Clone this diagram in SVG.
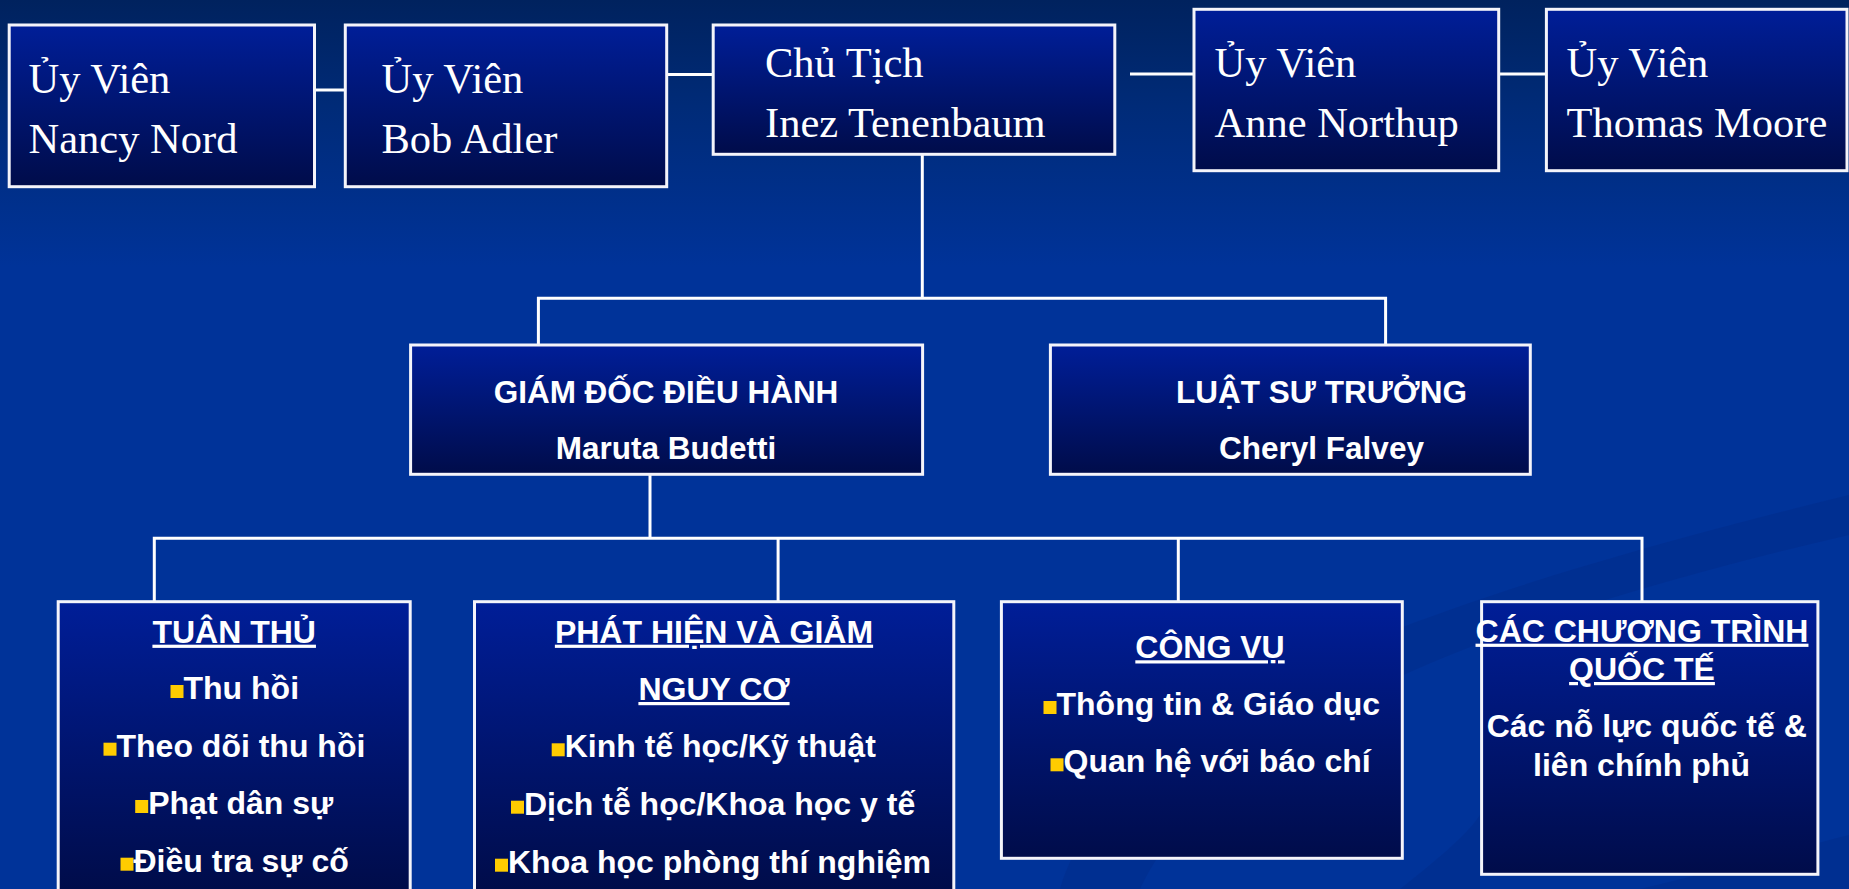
<svg xmlns="http://www.w3.org/2000/svg" width="1849" height="889" viewBox="0 0 1849 889">
  <defs>
    <linearGradient id="bg" x1="0" y1="0" x2="0" y2="1">
      <stop offset="0" stop-color="#00225E"/>
      <stop offset="0.12" stop-color="#002B78"/>
      <stop offset="0.3" stop-color="#003399"/>
      <stop offset="1" stop-color="#003399"/>
    </linearGradient>
    <linearGradient id="box" x1="0" y1="0" x2="0" y2="1">
      <stop offset="0" stop-color="#001E98"/>
      <stop offset="1" stop-color="#000C4A"/>
    </linearGradient>
    <linearGradient id="boxTall" gradientUnits="userSpaceOnUse" x1="0" y1="601" x2="0" y2="889">
      <stop offset="0" stop-color="#001E98"/>
      <stop offset="1" stop-color="#000C4A"/>
    </linearGradient>
    <style>
      .node { stroke: #F4F4FA; stroke-width: 3; }
      .conn { stroke: #FFFFFF; stroke-width: 3; fill: none; }
      .serif { font-family: "Liberation Serif", "Times New Roman", serif; font-size: 42.5px; fill: #FFFFFF; }
      .mid { font-family: "Liberation Sans", Arial, sans-serif; font-weight: bold; font-size: 31.5px; fill: #FFFFFF; text-anchor: middle; }
      .bot { font-family: "Liberation Sans", Arial, sans-serif; font-weight: bold; font-size: 32px; fill: #FFFFFF; }
      .ctr { text-anchor: middle; }
      .ul { text-decoration: underline; }
      .bul { fill: #FFCC00; }
      .swoosh { fill: #002C8A; opacity: 0.5; }
    </style>
  </defs>

  <rect x="0" y="0" width="1849" height="889" fill="url(#bg)"/>
  <g id="background-swooshes">
    <path class="swoosh" d="M1060,889 C1110,720 1380,610 1849,495 L1849,535 C1440,630 1210,740 1140,889 Z"/>
    <path class="swoosh" d="M1400,889 C1450,850 1470,830 1480,815 L1480,889 Z"/>
    <path class="swoosh" d="M1640,889 C1720,870 1790,850 1849,835 L1849,889 Z"/>
  </g>

  <g id="connectors">
    <line class="conn" x1="314.5" y1="90" x2="345.3" y2="90"/>
    <line class="conn" x1="666.7" y1="74.5" x2="713.2" y2="74.5"/>
    <line class="conn" x1="1130" y1="74" x2="1194" y2="74"/>
    <line class="conn" x1="1498.7" y1="74" x2="1546.4" y2="74"/>
    <line class="conn" x1="922.3" y1="154.3" x2="922.3" y2="298.3"/>
    <polyline class="conn" points="538.4,345 538.4,298.3 1385.6,298.3 1385.6,345"/>
    <line class="conn" x1="650" y1="474.3" x2="650" y2="538.3"/>
    <polyline class="conn" points="154.3,601.7 154.3,538.3 1642,538.3 1642,601.7"/>
    <line class="conn" x1="778.1" y1="538.3" x2="778.1" y2="601.7"/>
    <line class="conn" x1="1178.3" y1="538.3" x2="1178.3" y2="601.7"/>
  </g>

  <g id="node-nancy">
    <rect class="node" x="9.2" y="25" width="305.3" height="161.7" fill="url(#box)"/>
    <text class="serif" x="28.5" y="92.7">Ủy Viên</text>
    <text class="serif" x="28.5" y="153.3">Nancy Nord</text>
  </g>
  <g id="node-bob">
    <rect class="node" x="345.3" y="25" width="321.4" height="161.7" fill="url(#box)"/>
    <text class="serif" x="381.5" y="92.7">Ủy Viên</text>
    <text class="serif" x="381.5" y="153.3">Bob Adler</text>
  </g>
  <g id="node-chutich">
    <rect class="node" x="713.2" y="25" width="401.6" height="129.3" fill="url(#box)"/>
    <text class="serif" x="765" y="77.3">Chủ Tịch</text>
    <text class="serif" x="765" y="137.3">Inez Tenenbaum</text>
  </g>
  <g id="node-anne">
    <rect class="node" x="1194" y="9.3" width="304.7" height="161.4" fill="url(#box)"/>
    <text class="serif" x="1214.5" y="77.3">Ủy Viên</text>
    <text class="serif" x="1214.5" y="137.3">Anne Northup</text>
  </g>
  <g id="node-thomas">
    <rect class="node" x="1546.4" y="9.3" width="300.6" height="161.4" fill="url(#box)"/>
    <text class="serif" x="1566.5" y="77.3">Ủy Viên</text>
    <text class="serif" x="1566.5" y="137.3">Thomas Moore</text>
  </g>

  <g id="node-giamdoc">
    <rect class="node" x="410.6" y="345" width="512" height="129.3" fill="url(#box)"/>
    <text class="mid" x="666" y="402.7">GIÁM ĐỐC ĐIỀU HÀNH</text>
    <text class="mid" x="666" y="459">Maruta Budetti</text>
  </g>
  <g id="node-luatsu">
    <rect class="node" x="1050.4" y="345" width="479.9" height="129.3" fill="url(#box)"/>
    <text class="mid" x="1321.5" y="402.7">LUẬT SƯ TRƯỞNG</text>
    <text class="mid" x="1321.5" y="459">Cheryl Falvey</text>
  </g>

  <g id="node-tuanthu">
    <rect class="node" x="58.2" y="601.7" width="352" height="300" fill="url(#boxTall)"/>
    <text class="bot ctr ul" x="234.2" y="642.7">TUÂN THỦ</text>
    <rect class="bul" x="170.5" y="685" width="13" height="13"/>
    <text class="bot" x="183.5" y="699">Thu hồi</text>
    <rect class="bul" x="103.5" y="742.7" width="13" height="13"/>
    <text class="bot" x="116.5" y="756.7">Theo dõi thu hồi</text>
    <rect class="bul" x="135.2" y="800" width="13" height="13"/>
    <text class="bot" x="148.2" y="814">Phạt dân sự</text>
    <rect class="bul" x="120.5" y="857.7" width="13" height="13"/>
    <text class="bot" x="133.5" y="871.7">Điều tra sự cố</text>
  </g>

  <g id="node-phathien">
    <rect class="node" x="474.5" y="601.7" width="479.3" height="300" fill="url(#boxTall)"/>
    <text class="bot ctr ul" x="714" y="642.7">PHÁT HIỆN VÀ GIẢM</text>
    <text class="bot ctr ul" x="714" y="700">NGUY CƠ</text>
    <rect class="bul" x="551.7" y="743.3" width="13" height="13"/>
    <text class="bot" x="564.7" y="757.3">Kinh tế học/Kỹ thuật</text>
    <rect class="bul" x="511" y="800.7" width="13" height="13"/>
    <text class="bot" x="524" y="814.7">Dịch tễ học/Khoa học y tế</text>
    <rect class="bul" x="495" y="858.7" width="13" height="13"/>
    <text class="bot" x="508" y="872.7">Khoa học phòng thí nghiệm</text>
  </g>

  <g id="node-congvu">
    <rect class="node" x="1001.4" y="601.7" width="400.9" height="256.6" fill="url(#box)"/>
    <text class="bot ctr ul" x="1210" y="658.3">CÔNG VỤ</text>
    <rect class="bul" x="1043.5" y="701" width="13" height="13"/>
    <text class="bot" x="1056.5" y="715">Thông tin &amp; Giáo dục</text>
    <rect class="bul" x="1050.5" y="758.3" width="13" height="13"/>
    <text class="bot" x="1063.5" y="772.3">Quan hệ với báo chí</text>
  </g>

  <g id="node-quocte">
    <rect class="node" x="1481.6" y="601.7" width="336.3" height="272.6" fill="url(#box)"/>
    <text class="bot ctr ul" x="1642" y="641.7">CÁC CHƯƠNG TRÌNH</text>
    <text class="bot ctr ul" x="1642" y="680">QUỐC TẾ</text>
    <text class="bot ctr" x="1646.7" y="737.3">Các nỗ lực quốc tế &amp;</text>
    <text class="bot ctr" x="1641.5" y="776">liên chính phủ</text>
  </g>
</svg>
